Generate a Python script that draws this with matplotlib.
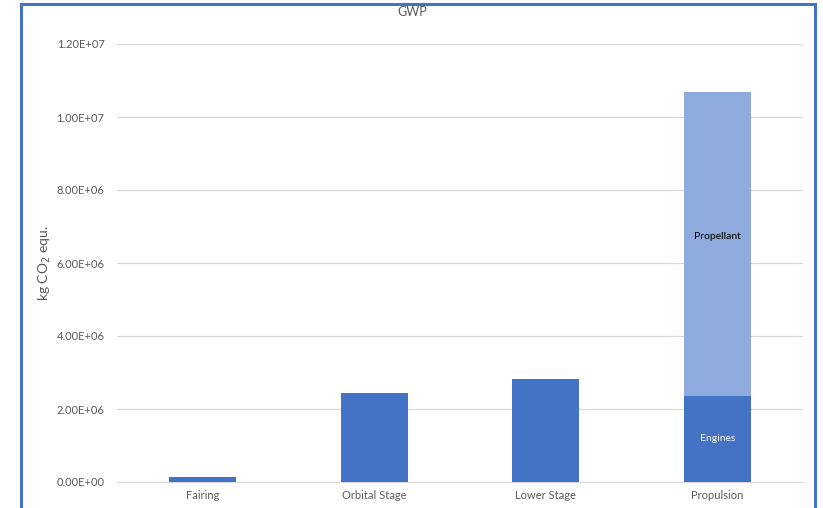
import matplotlib
matplotlib.use("Agg")
import matplotlib.pyplot as plt
from matplotlib.patches import Rectangle
from matplotlib.ticker import FuncFormatter, MultipleLocator

plt.rcParams['font.family'] = ['Lato', 'DejaVu Sans']

categories = ["Fairing", "Orbital Stage", "Lower Stage", "Propulsion"]
base_values = [1.4e5, 2.44e6, 2.82e6, 2.36e6]
propellant_values = [0, 0, 0, 8.32e6]
segment_labels = ["Engines", "Propellant"]

dark_blue = "#4472C4"
light_blue = "#8FAADC"
text_gray = "#595959"

fig = plt.figure(figsize=(8.23, 5.08), dpi=100)
ax = fig.add_axes([117 / 823, 26 / 508, 686 / 823, 438 / 508])

x = list(range(len(categories)))
width = 0.39
ax.bar(x, base_values, width=width, color=dark_blue, zorder=3)
ax.bar(x, propellant_values, width=width, bottom=base_values, color=light_blue, zorder=3)

# Segment labels on the stacked Propulsion bar
i = 3
ax.text(i, base_values[i] / 2, segment_labels[0], ha="center", va="center",
        color="white", fontsize=7.5, zorder=4)
ax.text(i, base_values[i] + propellant_values[i] / 2 + 2.0e5, segment_labels[1],
        ha="center", va="center", color="black", fontsize=7.5, zorder=4)

ax.set_xlim(-0.5, len(categories) - 0.5)
ax.set_ylim(0, 1.2e7)
ax.yaxis.set_major_locator(MultipleLocator(2e6))
ax.yaxis.set_major_formatter(FuncFormatter(lambda v, p: f"{v:.2E}"))
ax.grid(axis="y", color="#D9D9D9", linewidth=0.9, zorder=0)
ax.set_axisbelow(True)

for s in ["top", "right", "left"]:
    ax.spines[s].set_visible(False)
ax.spines["bottom"].set_color("#D9D9D9")
ax.tick_params(axis="both", length=0, colors=text_gray, labelsize=8)
ax.tick_params(axis="y", pad=9)
ax.tick_params(axis="x", pad=6)
ax.set_xticks(x)
ax.set_xticklabels(categories)

fig.text(45 / 823, 1 - 263 / 508, "kg CO$_2$ equ.", rotation=90, ha="center",
         va="center", fontsize=10, color=text_gray)
fig.text(412 / 823, 1 - 12 / 508, "GWP", ha="center", va="center",
         fontsize=9, color=text_gray)

# Blue frame around the chart area
fig.patches.append(Rectangle((21 / 823, -0.05), 794 / 823, 1 - 4 / 508 + 0.05,
                             transform=fig.transFigure, fill=False,
                             edgecolor=dark_blue, linewidth=2.2))

fig.savefig("out.png", dpi=100)
